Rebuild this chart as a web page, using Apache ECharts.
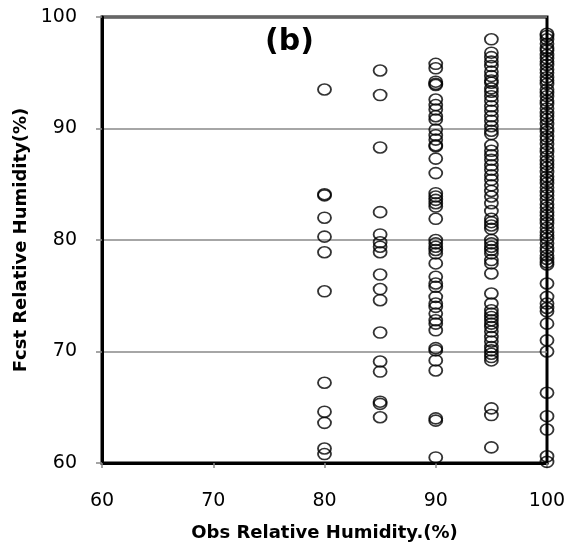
<!DOCTYPE html>
<html>
<head>
<meta charset="utf-8">
<script src="https://cdn.jsdelivr.net/npm/echarts@6/dist/echarts.min.js"></script>
<style>html,body{margin:0;padding:0;background:#fff;}#c{width:570px;height:549px;}</style>
</head>
<body>
<div id="c"></div>
<script>
const panelLabel = '(b)';
const xAxisName = 'Obs Relative Humidity.(%)';
const yAxisName = 'Fcst Relative Humidity(%)';
const axisMin = 60, axisMax = 100, axisStep = 10;

const obsLevels = [80, 85, 90, 95, 100];
const fcstAt80 = [93.5, 84.1, 84.0, 82.0, 80.3, 78.9, 75.4, 67.2, 64.6, 63.6, 61.3, 60.8];
const fcstAt85 = [95.2, 93.0, 88.3, 82.5, 80.5, 79.8, 79.4, 78.9, 76.9, 75.6, 74.6, 71.7, 69.1, 68.2, 65.5, 65.3, 64.1];
const fcstAt90 = [95.8, 95.4, 94.2, 94.0, 93.9, 92.6, 92.1, 91.7, 91.1, 90.8, 89.9, 89.4, 89.0, 88.5, 88.4,
  87.3, 86.0, 84.2, 83.9, 83.6, 83.3, 83.0, 81.9, 80.0, 79.7, 79.4, 79.1, 78.8, 77.9, 76.7, 76.1, 75.8,
  74.9, 74.3, 74.0, 73.4, 72.8, 72.5, 71.9, 70.3, 70.1, 69.2, 68.3, 64.0, 63.8, 60.5];
const fcstAt95 = [98.0, 96.8, 96.4, 96.0, 95.6, 95.1, 94.7, 94.3, 94.1, 93.6, 93.3, 92.9, 92.5, 92.0, 91.6,
  91.1, 90.7, 90.2, 89.8, 89.5, 88.5, 88.0, 87.6, 87.2, 86.7, 86.3, 85.8, 85.4, 84.9, 84.4, 83.9, 83.3,
  82.6, 81.9, 81.6, 81.3, 81.0, 80.0, 79.7, 79.4, 79.1, 78.8, 78.2, 77.9, 77.0, 75.2, 74.3, 73.7, 73.4,
  73.1, 72.8, 72.5, 72.2, 71.8, 71.3, 70.9, 70.4, 70.1, 69.8, 69.5, 69.2, 64.9, 64.3, 61.4];
const fcstAt100 = [98.5, 98.3, 98.0, 97.6, 97.2, 97.0, 96.6, 96.3, 96.0, 95.7, 95.3, 95.0, 94.6, 94.3, 94.0,
  93.5, 93.2, 92.9, 92.5, 92.2, 91.8, 91.4, 91.1, 90.8, 90.4, 90.0, 89.7, 89.3, 89.0, 88.6, 88.2, 87.9,
  87.5, 87.1, 86.8, 86.5, 86.1, 85.7, 85.4, 85.1, 84.7, 84.3, 84.0, 83.6, 83.2, 82.9, 82.5, 82.2, 81.8,
  81.5, 81.1, 80.7, 80.4, 80.1, 79.7, 79.3, 79.0, 78.6, 78.3, 78.0, 77.8, 76.1, 74.9, 74.3, 73.9, 73.6,
  72.5, 71.0, 70.0, 66.3, 64.2, 63.0, 60.6, 60.1];

const columns = [fcstAt80, fcstAt85, fcstAt90, fcstAt95, fcstAt100];
const points = [];
obsLevels.forEach((x, i) => columns[i].forEach(y => points.push([x, y])));

const FONT = 'DejaVu Sans';
const chart = echarts.init(document.getElementById('c'));
chart.setOption({
  animation: false,
  backgroundColor: '#fff',
  grid: { left: 102, right: 23, top: 17, bottom: 86, show: true, borderColor: '#000', borderWidth: 3, backgroundColor: 'transparent' },
  xAxis: {
    type: 'value', min: axisMin, max: axisMax, interval: axisStep,
    name: xAxisName, nameLocation: 'middle', nameGap: 61,
    nameTextStyle: { fontFamily: FONT, fontSize: 18, fontWeight: 'bold', color: '#000' },
    axisLine: { show: true, lineStyle: { color: '#000', width: 3 } },
    axisTick: { show: true, length: 5, lineStyle: { color: '#888', width: 1.5 } },
    axisLabel: { margin: 29, fontFamily: FONT, fontSize: 19, color: '#000' },
    splitLine: { show: false }
  },
  yAxis: {
    type: 'value', min: axisMin, max: axisMax, interval: axisStep,
    name: yAxisName, nameLocation: 'middle', nameGap: 70,
    nameTextStyle: { fontFamily: FONT, fontSize: 18, fontWeight: 'bold', color: '#000' },
    axisLine: { show: true, lineStyle: { color: '#000', width: 3 } },
    axisTick: { show: true, length: 6, lineStyle: { color: '#888', width: 1.5 } },
    axisLabel: { margin: 25, fontFamily: FONT, fontSize: 19, color: '#000' },
    splitLine: { show: true, lineStyle: { color: '#888', width: 1.5 } }
  },
  graphic: [{
    type: 'text', left: 265, top: 27,
    style: { text: panelLabel, fontFamily: FONT, fontSize: 30, fontWeight: 'bold', fill: '#000' }
  }],
  series: [{
    type: 'scatter', data: points, symbol: 'circle', symbolSize: [13, 11], clip: false,
    itemStyle: { color: 'rgba(0,0,0,0)', borderColor: '#000', borderWidth: 1.7 }
  }]
});
</script>
</body>
</html>
